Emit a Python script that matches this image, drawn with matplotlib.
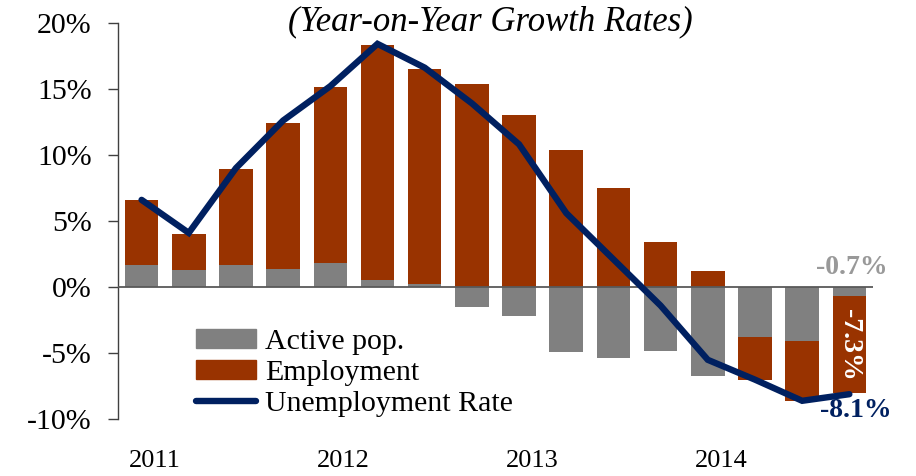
import numpy as np
import matplotlib
matplotlib.use("Agg")
import matplotlib.pyplot as plt
import matplotlib.transforms as mtransforms
from matplotlib.patches import Patch
from matplotlib.lines import Line2D

# ---- data (quarterly, 2011Q1 .. 2014Q4) ----
quarters = ["2011Q1", "2011Q2", "2011Q3", "2011Q4",
            "2012Q1", "2012Q2", "2012Q3", "2012Q4",
            "2013Q1", "2013Q2", "2013Q3", "2013Q4",
            "2014Q1", "2014Q2", "2014Q3", "2014Q4"]
year_labels = ["2011", "2012", "2013", "2014"]
active_pop = [1.7, 1.3, 1.7, 1.35, 1.8, 0.5, 0.2, -1.5,
              -2.2, -4.9, -5.4, -4.8, -6.7, -3.8, -4.05, -0.7]
employment = [4.9, 2.75, 7.25, 11.1, 13.35, 17.8, 16.3, 15.4,
              13.0, 10.4, 7.5, 3.4, 1.25, -3.2, -4.6, -7.3]
unemp_rate = [6.6, 4.1, 9.0, 12.6, 15.2, 18.4, 16.6, 13.9,
              10.8, 5.6, 2.1, -1.4, -5.5, -7.0, -8.6, -8.1]

GREY = "#808080"
BROWN = "#993300"
NAVY = "#002060"

plt.rcParams["font.family"] = ["Liberation Serif", "DejaVu Serif"]

fig = plt.figure(figsize=(9.16, 4.76), dpi=100)
ax = fig.add_axes([0.1288, 0.1191, 0.953 - 0.1288, 0.9523 - 0.1191])

x = np.arange(len(quarters))
act = np.array(active_pop)
emp = np.array(employment)

# stack employment on the same side as its sign
emp_bottom = np.where(emp >= 0, np.maximum(act, 0), np.minimum(act, 0))

ax.bar(x, act, width=0.71, color=GREY, zorder=2)
ax.bar(x, emp, width=0.71, bottom=emp_bottom, color=BROWN, zorder=2)
ax.plot(x, unemp_rate, color=NAVY, lw=4.6, solid_joinstyle="miter",
        solid_capstyle="round", zorder=4)
ax.axhline(0, color="#595959", lw=1.3, zorder=3)

ax.set_xlim(-0.5, 15.5)
ax.set_ylim(-10, 20)
ax.set_yticks(np.arange(-10, 21, 5))
ax.set_yticklabels([f"{v}%" for v in range(-10, 21, 5)])
ax.tick_params(axis="y", direction="out", length=7, width=1,
               color="#404040", labelsize=21.5, pad=12)

ax.set_xticks(x[::4])
ax.set_xticklabels(year_labels)
ax.tick_params(axis="x", length=0, labelsize=19, pad=22)
offset = mtransforms.ScaledTranslation(13 / 100, 0, fig.dpi_scale_trans)
for lbl in ax.get_xticklabels():
    lbl.set_transform(lbl.get_transform() + offset)

for s in ["top", "right", "bottom"]:
    ax.spines[s].set_visible(False)
ax.spines["left"].set_color("#404040")
ax.spines["left"].set_linewidth(1)

# annotations for last quarter
last = x[-1]
ax.annotate(f"{active_pop[-1]:.1f}%", (last, 0), xytext=(2, 14),
            textcoords="offset points", ha="center", va="center",
            color="#999999", fontsize=20, fontweight="bold")
ax.text(last, active_pop[-1] + employment[-1] / 2, f"{employment[-1]:.1f}%",
        rotation=270, ha="center", va="center", color="white",
        fontsize=20, fontweight="bold", zorder=5)
ax.annotate(f"{unemp_rate[-1]:.1f}%", (last, unemp_rate[-1]), xytext=(5, -12),
            textcoords="offset points", ha="center", va="center",
            color=NAVY, fontsize=20, fontweight="bold", zorder=5)

handles = [Patch(color=GREY), Patch(color=BROWN),
           Line2D([0], [0], color=NAVY, lw=4.6, solid_capstyle="round")]
ax.legend(handles, ["Active pop.", "Employment", "Unemployment Rate"],
          loc="upper left", bbox_to_anchor=(0.104, 0.228), frameon=False,
          fontsize=21.5, handlelength=2.0, handleheight=0.6, handletextpad=0.3,
          labelspacing=0.17, borderpad=0, borderaxespad=0)

fig.text(490 / 916, 1 - 22 / 476, "(Year-on-Year Growth Rates)",
         ha="center", va="center", fontsize=25, style="italic")

fig.savefig("out.png", dpi=100)
